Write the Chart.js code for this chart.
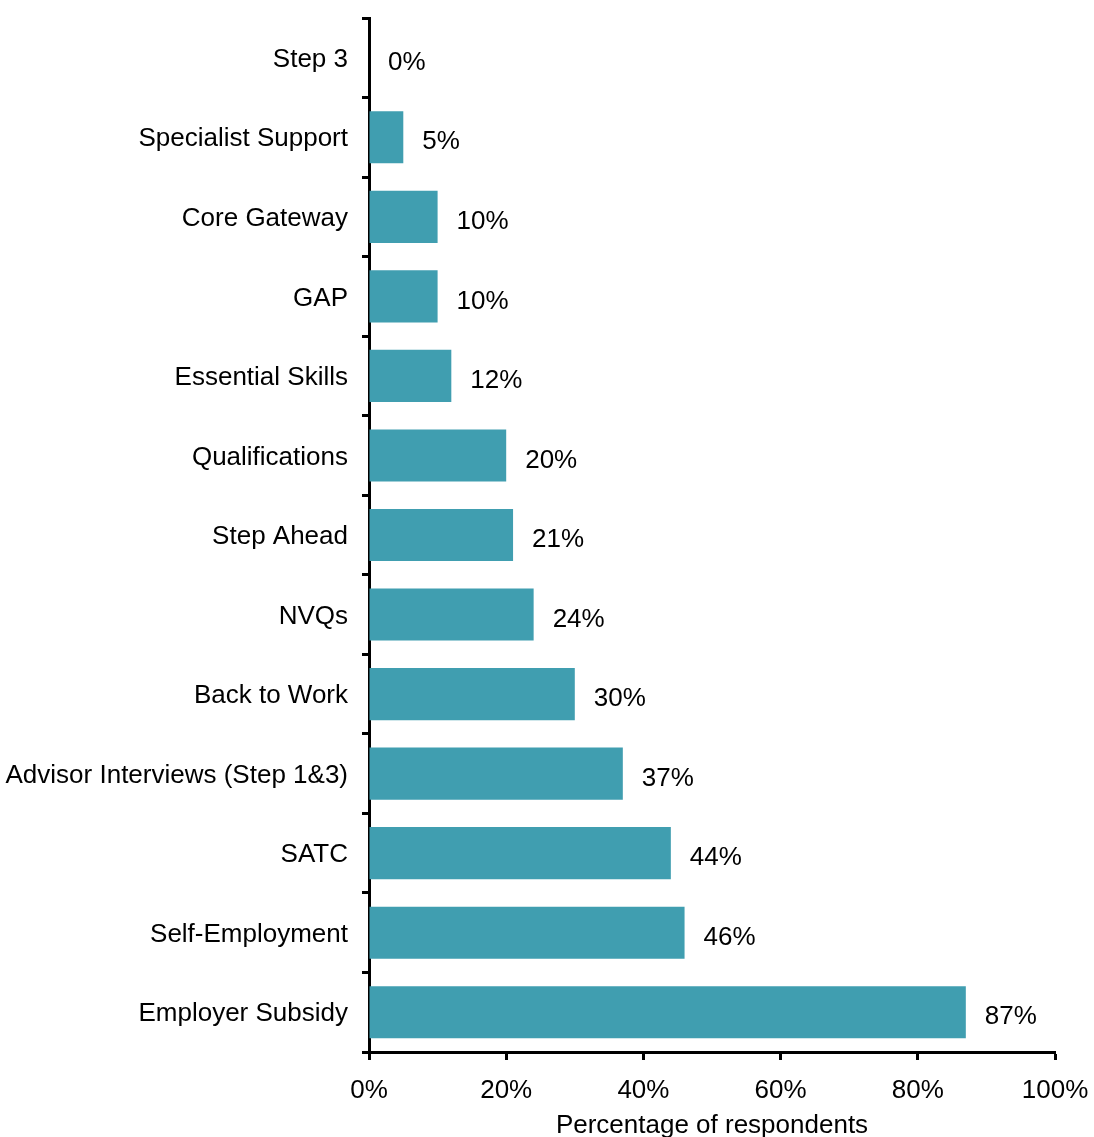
<!DOCTYPE html>
<html>
<head>
<meta charset="utf-8">
<title>Programme usage</title>
<script src="https://cdn.jsdelivr.net/npm/chart.js@4"></script>
<style>
    html, body { margin: 0; padding: 0; background: #fff; overflow: hidden; }
    #usageChart { display: block; }
</style>
</head>
<body>
<canvas id="usageChart" width="1094" height="1160"></canvas>
<script>
const programmes = [
    'Step 3', 'Specialist Support', 'Core Gateway', 'GAP', 'Essential Skills',
    'Qualifications', 'Step Ahead', 'NVQs', 'Back to Work',
    'Advisor Interviews (Step 1&3)', 'SATC', 'Self-Employment', 'Employer Subsidy'
];
const percentages = [0, 5, 10, 10, 12, 20, 21, 24, 30, 37, 44, 46, 87];
const xTicks = [0, 20, 40, 60, 80, 100];

const FONT = 'Liberation Sans, Arial, sans-serif';
const FONT_SIZE = 26;
const BAR_COLOUR = '#409eb0';

// value labels to the right of each bar
const valueLabels = {
    id: 'valueLabels',
    afterDatasetsDraw(chart) {
        const ctx = chart.ctx;
        const meta = chart.getDatasetMeta(0);
        ctx.save();
        ctx.font = `${FONT_SIZE}px ${FONT}`;
        ctx.fillStyle = '#000';
        ctx.textAlign = 'left';
        ctx.textBaseline = 'middle';
        meta.data.forEach((bar, i) => {
            ctx.fillText(percentages[i] + '%', bar.x + 19, bar.y + 5);
        });
        ctx.restore();
    }
};

new Chart(document.getElementById('usageChart'), {
    type: 'bar',
    data: {
        labels: programmes,
        datasets: [{
            data: percentages,
            backgroundColor: BAR_COLOUR,
            borderWidth: 0,
            categoryPercentage: 1,
            barPercentage: 0.655
        }]
    },
    options: {
        indexAxis: 'y',
        responsive: false,
        animation: false,
        layout: { padding: { top: 18, right: 39, left: 0, bottom: 0 } },
        plugins: {
            legend: { display: false },
            tooltip: { enabled: false }
        },
        scales: {
            x: {
                min: 0,
                max: 100,
                afterBuildTicks: scale => { scale.ticks = xTicks.map(v => ({ value: v })); },
                afterFit: scale => {
                    scale.height = 1160 - 1052;
                    scale.paddingLeft = 0;
                    scale.paddingRight = 0;
                },
                border: { display: true, color: '#000', width: 3 },
                grid: {
                    drawOnChartArea: false,
                    drawTicks: true,
                    tickLength: 8,
                    tickColor: '#000',
                    tickWidth: 3
                },
                ticks: {
                    padding: 15,
                    color: '#000',
                    font: { family: FONT, size: FONT_SIZE },
                    callback: v => v + '%'
                },
                title: {
                    display: true,
                    text: 'Percentage of respondents',
                    color: '#000',
                    font: { family: FONT, size: FONT_SIZE },
                    padding: { top: 0, bottom: 19 }
                }
            },
            y: {
                afterFit: scale => {
                    scale.width = 369;
                    scale.paddingTop = 0;
                    scale.paddingBottom = 0;
                },
                border: { display: true, color: '#000', width: 3 },
                grid: {
                    offset: true,
                    drawOnChartArea: false,
                    drawTicks: true,
                    tickLength: 7,
                    tickColor: '#000',
                    tickWidth: 3
                },
                ticks: {
                    padding: 14,
                    labelOffset: 2,
                    color: '#000',
                    font: { family: FONT, size: FONT_SIZE }
                }
            }
        }
    },
    plugins: [valueLabels]
});
</script>
</body>
</html>
